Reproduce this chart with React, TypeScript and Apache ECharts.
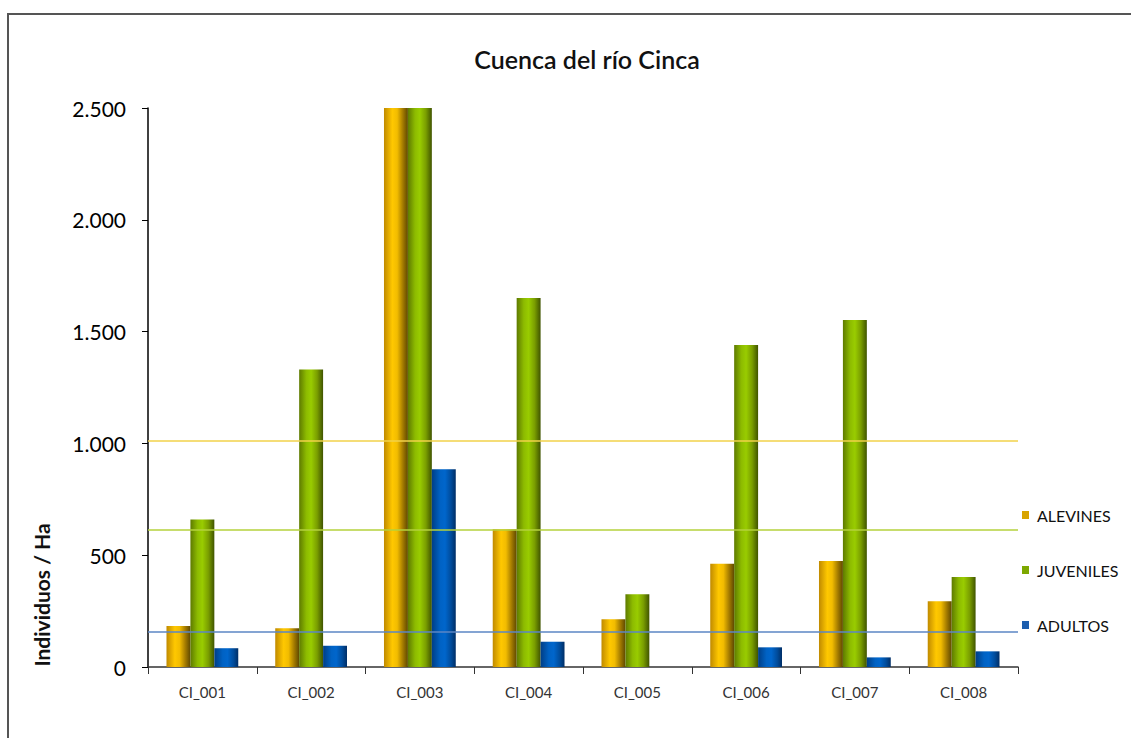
import React, { useEffect, useRef } from "react";
import * as echarts from "echarts";

const categories = ["CI_001", "CI_002", "CI_003", "CI_004", "CI_005", "CI_006", "CI_007", "CI_008"];
const alevines = [183, 173, 2500, 616, 213, 462, 474, 294];
const juveniles = [660, 1330, 2500, 1650, 325, 1440, 1552, 402];
const adultos = [84, 95, 884, 113, 0, 88, 43, 70];
const seriesNames = ["ALEVINES", "JUVENILES", "ADULTOS"];
const referenceLevels = [1012, 616, 158];
const yTicks = [0, 500, 1000, 1500, 2000, 2500];

const FONT = "Lato, 'Open Sans', sans-serif";

const grad = (stops: [number, string][]) =>
  new echarts.graphic.LinearGradient(0, 0, 1, 0, stops.map(([offset, color]) => ({ offset, color })));

const fmt = (v: number) => String(v).replace(/\B(?=(\d{3})+(?!\d))/g, ".");

export default function App() {
  const ref = useRef<HTMLDivElement>(null);
  useEffect(() => {
    if (!ref.current) return;
    const chart = echarts.init(ref.current, undefined, { renderer: "svg" });
    const fills = [
      grad([[0, "#C08A00"], [0.35, "#FFC800"], [0.55, "#F2BC00"], [0.8, "#A07800"], [1, "#5E4800"]]),
      grad([[0, "#5E7A00"], [0.3, "#8DBB00"], [0.5, "#99CC00"], [0.75, "#7A9E00"], [1, "#405400"]]),
      grad([[0, "#003E86"], [0.35, "#0062C4"], [0.55, "#0066CC"], [0.8, "#004C9C"], [1, "#002E66"]]),
    ];
    const legendColors = ["#D8A400", "#7DA800", "#1D5EAE"];
    const lineColors = ["#F2D24A", "#B4D23C", "#5B86C4"];
    const data = [alevines, juveniles, adultos];
    chart.setOption({
      animation: false,
      title: {
        text: "Cuenca del río Cinca",
        left: 582,
        top: 41,
        textAlign: "center",
        textStyle: { fontFamily: FONT, fontSize: 25, fontWeight: 600, color: "#111" },
      },
      legend: {
        orient: "vertical",
        left: 1017,
        top: 502,
        itemWidth: 7,
        itemHeight: 8,
        itemGap: 39,
        icon: "rect",
        textStyle: { fontFamily: FONT, fontSize: 16, color: "#111", padding: [0, 0, 0, 3] },
        data: seriesNames.map((n, i) => ({ name: n, itemStyle: { color: legendColors[i] } })),
      },
      grid: { left: 148, top: 108, width: 870, height: 559, containLabel: false },
      xAxis: {
        type: "category",
        data: categories,
        axisLine: { lineStyle: { color: "#333", width: 1.5 } },
        axisTick: { show: true, length: 7, lineStyle: { color: "#333" } },
        axisLabel: { fontFamily: FONT, fontSize: 15, color: "#333", margin: 17 },
      },
      yAxis: {
        type: "value",
        min: 0,
        max: yTicks[yTicks.length - 1],
        interval: 500,
        axisLine: { show: true, lineStyle: { color: "#000", width: 1.5 } },
        axisTick: { show: true, length: 6, lineStyle: { color: "#000" } },
        splitLine: { show: false },
        axisLabel: { fontFamily: FONT, fontSize: 21, color: "#000", margin: 22, formatter: (v: number) => fmt(v) },
      },
      graphic: [
        {
          type: "rect",
          shape: { x: 8, y: 14, width: 1300, height: 900 },
          style: { fill: "none", stroke: "#555", lineWidth: 2 },
          silent: true,
        },
        {
          type: "text",
          x: 41,
          y: 595,
          rotation: Math.PI / 2,
          style: {
            text: "Individuos / Ha",
            fontFamily: FONT,
            fontSize: 21,
            fontWeight: "bold",
            fill: "#111",
            textAlign: "center",
            textVerticalAlign: "middle",
          },
        },
      ],
      series: seriesNames.map((name, i) => ({
        name,
        type: "bar",
        data: data[i],
        barGap: "0%",
        barCategoryGap: "34%",
        itemStyle: { color: fills[i] },
        markLine: {
          silent: true,
          symbol: "none",
          label: { show: false },
          lineStyle: { color: lineColors[i], type: "solid", width: 1.5 },
          data: [{ yAxis: referenceLevels[i] }],
        },
      })),
    });
    return () => chart.dispose();
  }, []);
  return (
    <div
      ref={ref}
      style={{ position: "fixed", left: 0, top: 0, width: 1131, height: 738, background: "#fff" }}
    />
  );
}
